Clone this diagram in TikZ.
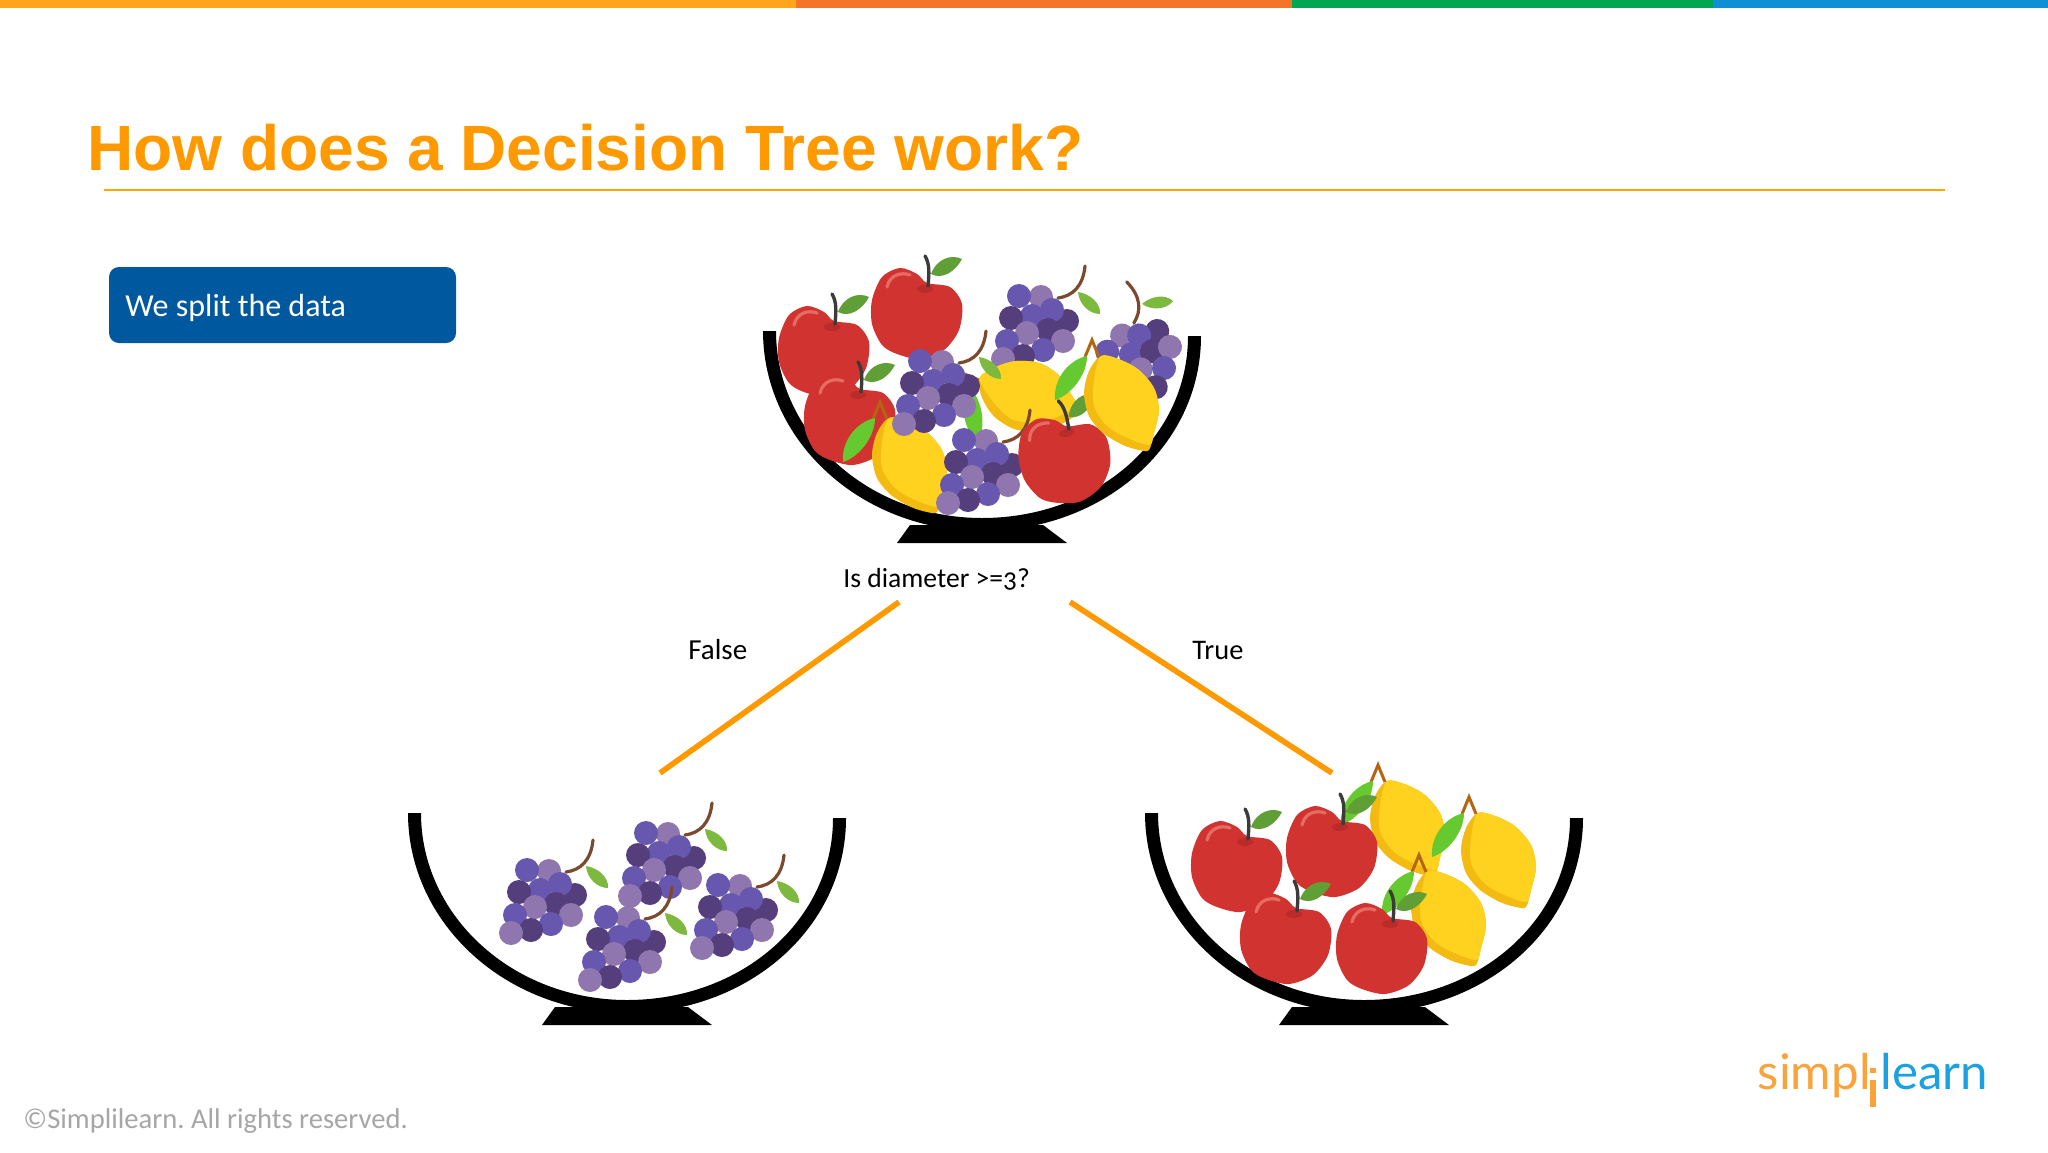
\documentclass[tikz,border=0pt]{standalone}
\usepackage{fontspec}
\setmainfont{Carlito}[Numbers=OldStyle]
\newfontfamily\titlefont{Liberation Sans}
\newfontfamily\logofont{Lato}
\usetikzlibrary{positioning}

\definecolor{titleorange}{HTML}{FF9900}
\definecolor{boxblue}{HTML}{00589F}
\definecolor{applered}{HTML}{D13331}
\definecolor{appledip}{HTML}{BB2B2A}
\definecolor{applelight}{HTML}{E66C62}
\definecolor{stemdark}{HTML}{3D3A3A}
\definecolor{appleleaf}{HTML}{5F9F36}
\definecolor{lemonbody}{HTML}{FFD21F}
\definecolor{lemonedge}{HTML}{F3BA12}
\definecolor{lemonstem}{HTML}{B5650F}
\definecolor{lemonleaf}{HTML}{66C92F}
\definecolor{grapeblue}{HTML}{6757AE}
\definecolor{grapelight}{HTML}{8F76AE}
\definecolor{grapedark}{HTML}{553E7C}
\definecolor{grapestem}{HTML}{7B4A2E}
\definecolor{grapeleaf}{HTML}{7DB83F}

\tikzset{
  textnode/.style={inner sep=0pt, anchor=base west, font=\fontsize{14.5}{17}\selectfont},
  branch/.style={draw=titleorange, line width=2.8pt},
  apple/.pic={
    \fill[appleleaf] (14,-38) .. controls (20,-54) and (35,-58) .. (45,-53) .. controls (38,-40) and (25,-32) .. (14,-38);
    \fill[applered] plot[smooth cycle] coordinates {(10,-29) (33,-25) (45,-8) (42,18) (27,38) (3,47) (-20,42) (-35,33) (-45,12) (-45,-12) (-35,-35) (-17,-44) (0,-38)};
    \fill[appledip] (8,-23) ellipse (8 and 4);
    \draw[applelight, line width=1.6pt, line cap=round] (-30,-25) .. controls (-27,-38) and (-15,-40) .. (-7,-37);
    \draw[stemdark, line width=1.7pt, line cap=round] (11,-26) .. controls (12,-38) and (13,-48) .. (8,-56);
  },
  lemon/.pic={
    \fill[lemonedge] plot[smooth cycle] coordinates {(-20,-47) (0,-43) (18,-33) (33,-15) (38,7) (33,30) (28,47) (18,47) (2,42) (-18,30) (-32,13) (-37,-10) (-32,-32)};
    \fill[lemonbody] plot[smooth cycle] coordinates {(-20,-47) (0,-43) (18,-33) (33,-15) (38,7) (33,30) (28,42) (2,33) (-15,22) (-27,3) (-27,-23)};
    \draw[lemonstem, line width=1.5pt] (-36,-46) -- (-29,-63) -- (-22,-46);
    \fill[lemonleaf] (-34,-47) .. controls (-50,-44) and (-68,-26) .. (-66,-3) .. controls (-50,-8) and (-34,-28) .. (-34,-47);
  },
  grapes/.pic={
    \draw[grapestem, line width=1.6pt, line cap=round] (23,-30) .. controls (38,-32) and (48,-42) .. (50,-62);
    \fill[grapeleaf] (43,-36) .. controls (56,-34) and (66,-24) .. (65,-14) .. controls (54,-14) and (44,-24) .. (43,-36);
    \foreach \gx/\gy/\gcol in {6/-31/grapelight, -16/-32/grapeblue, 32/-7/grapedark, -3/-12/grapeblue,
        17/-18/grapeblue, -24/-10/grapedark, 13/2/grapedark, 28/13/grapelight, -8/5/grapelight,
        8/22/grapeblue, -28/13/grapeblue, -12/28/grapedark, -32/31/grapelight}
      \fill[\gcol] (\gx,\gy) circle (12);
  },
  bowl/.pic={
    \fill[black] (-219,0) .. controls (-219,110) and (-121,200) .. (0,200) .. controls (121,200) and (219,115) .. (219,5)
      -- (206,5) .. controls (206,108) and (114,187) .. (0,187) .. controls (-114,187) and (-206,103) .. (-206,0) -- cycle;
    \fill[black] (-72,194) -- (61,194) -- (85,212) -- (-85,212) -- cycle;
  }
}

\begin{document}
\frenchspacing
\begin{tikzpicture}[x=.5pt, y=-.5pt]
\useasboundingbox (0,0) rectangle (2048,1152);

% top strip
\fill[fill=white] (0,0) rectangle (2048,1152);
\fill[color={rgb,255:red,255;green,165;blue,29}] (0,0) rectangle (796,8);
\fill[color={rgb,255:red,244;green,117;blue,41}] (796,0) rectangle (1292,8);
\fill[color={rgb,255:red,0;green,166;blue,81}] (1292,0) rectangle (1713,8);
\fill[color={rgb,255:red,15;green,143;blue,214}] (1713,0) rectangle (2048,8);

% title and box
\node[anchor=base west, inner sep=0pt, text=titleorange, font=\titlefont\bfseries\fontsize{32}{36}\selectfont] (title) at (87,170) {How does a Decision Tree work?};
\draw[titleorange!85!yellow, line width=1pt] (104,190) -- (1945,190);
\node[fill=boxblue, rounded corners=5pt, minimum width=173.5pt, minimum height=38pt, inner sep=0pt] (splitbox) at (282.5,305) {};
\node[textnode, text=white, font=\fontsize{16}{19}\selectfont] (splittext) at (125,316) {We split the data};

% bowls
\pic at (982,331) {bowl};
\pic at (627,813) {bowl};
\pic at (1364,813) {bowl};

% full bowl
\pic at (824,350) {apple};
\pic at (917,312) {apple};
\pic[rotate=50] at (1142,360) {grapes};
\pic at (1035,328) {grapes};
\pic[rotate=45] at (1027,397) {lemon};
\pic at (850,418) {apple};
\pic at (909,465) {lemon};
\pic at (936,393) {grapes};
\pic at (980,472) {grapes};
\pic[rotate=15] at (1065,457) {apple};
\pic at (1121,403) {lemon};

% split question
\node[textnode, font=\fontsize{13.8}{17}\selectfont] (question) at (843,587) {Is diameter >=3?};
\coordinate (falsetop) at (899,602);
\coordinate (falseend) at (660,773);
\coordinate (truetop) at (1070,602);
\coordinate (trueend) at (1332,773);
\draw[branch] (falsetop) -- (falseend);
\draw[branch] (truetop) -- (trueend);
\node[textnode] (falselabel) at (688,659) {False};
\node[textnode, font=\fontsize{14.2}{17}\selectfont] (truelabel) at (1192,659) {True};

% false bowl
\pic at (662,865) {grapes};
\pic at (543,902) {grapes};
\pic at (622,949) {grapes};
\pic at (734,917) {grapes};

% true bowl
\pic at (1407,828) {lemon};
\pic at (1448,918) {lemon};
\pic at (1498,860) {lemon};
\pic at (1237,865) {apple};
\pic at (1332,850) {apple};
\pic at (1286,937) {apple};
\pic at (1382,947) {apple};

% footer and logo
\node[textnode, text=black!35, font=\fontsize{14.3}{17}\selectfont] (footer) at (23,1128) {©Simplilearn. All rights reserved.};
\node[anchor=base east, inner sep=0pt, text={rgb,255:red,249;green,163;blue,60}, font=\logofont\fontsize{24.6}{30}\selectfont] (logosimpl) at (1871,1089) {simpl};
\node[anchor=base west, inner sep=0pt, text={rgb,255:red,27;green,161;blue,226}, font=\logofont\fontsize{24.6}{30}\selectfont] (logolearn) at (1880,1089) {learn};
\fill[color={rgb,255:red,249;green,163;blue,60}] (1870,1068) rectangle (1876,1073);
\fill[color={rgb,255:red,249;green,163;blue,60}] (1870,1080) rectangle (1876,1107);
\end{tikzpicture}
\end{document}
